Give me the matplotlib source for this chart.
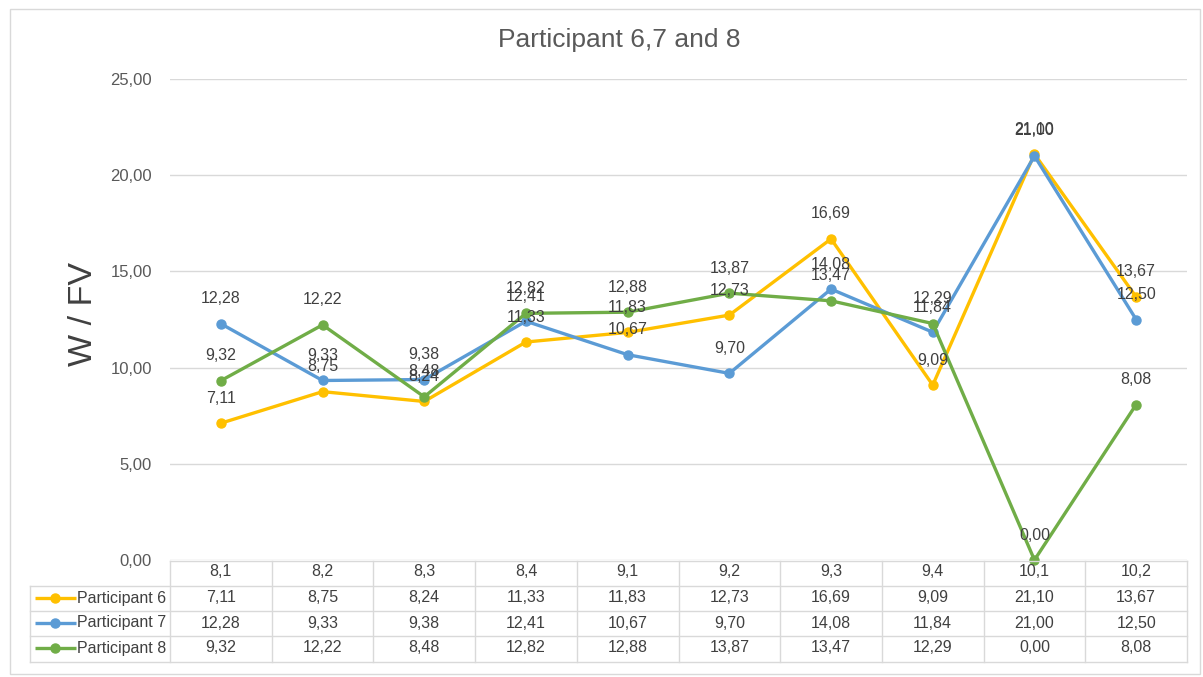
import matplotlib.pyplot as plt
from matplotlib.patches import Rectangle
from matplotlib.lines import Line2D
import matplotlib.transforms as mtransforms

categories = ["8,1", "8,2", "8,3", "8,4", "9,1", "9,2", "9,3", "9,4", "10,1", "10,2"]
participant6 = [7.11, 8.75, 8.24, 11.33, 11.83, 12.73, 16.69, 9.09, 21.10, 13.67]
participant7 = [12.28, 9.33, 9.38, 12.41, 10.67, 9.70, 14.08, 11.84, 21.00, 12.50]
participant8 = [9.32, 12.22, 8.48, 12.82, 12.88, 13.87, 13.47, 12.29, 0.00, 8.08]
series_names = ["Participant 6", "Participant 7", "Participant 8"]
colors = ["#FFC000", "#5B9BD5", "#70AD47"]
yticks = [0, 5, 10, 15, 20, 25]

W, H = 1203, 677
txt = "#404040"
fs = 11.5
plt.rcParams['font.family'] = ['Liberation Sans', 'DejaVu Sans']

def fx(px):
    return px / W

def fy(py):
    return 1 - py / H

def comma(v):
    return f"{v:.2f}".replace(".", ",")

fig = plt.figure(figsize=(W / 100, H / 100), dpi=100)
fig.patches.append(Rectangle((fx(10), fy(674)), fx(1190), (674 - 9) / H,
                             transform=fig.transFigure, fill=False,
                             edgecolor="#D9D9D9", linewidth=1))

ax = fig.add_axes([fx(170), fy(560), fx(1187 - 170), (560 - 79) / H])
n = len(categories)
x = list(range(n))
all_series = [participant6, participant7, participant8]

for vals, c in zip(all_series, colors):
    ax.plot(x, vals, color=c, linewidth=2.4, marker="o", markersize=6.5, zorder=3,
            clip_on=False)
    for xi, v in zip(x, vals):
        ax.annotate(comma(v), (xi, v), xytext=(0, 18),
                    textcoords="offset points", ha="center", va="center",
                    fontsize=fs, color=txt, zorder=4)

ax.set_xlim(-0.5, n - 0.5)
ax.set_ylim(0, 25)
ax.set_yticks(yticks)
ax.set_yticklabels([comma(t) for t in yticks], fontsize=12, color="#595959")
ax.tick_params(axis="y", length=0, pad=13)
ax.set_xticks([])
ax.grid(axis="y", color="#D9D9D9", linewidth=1)
ax.set_axisbelow(True)
for s in ax.spines.values():
    s.set_visible(False)

fig.text(fx(84), fy(314), "W / FV", rotation=90, ha="center", va="center",
         fontsize=24.5, color=txt)
fig.text(fx(619), fy(40), "Participant 6,7 and 8", ha="center", va="center",
         fontsize=19, color="#595959")

# data table under the plot: x in data units, y in figure units
trans = mtransforms.blended_transform_factory(ax.transData, fig.transFigure)
grid_c = "#D9D9D9"
row_edges = [560, 585, 610, 635, 661]
left_px = 30
for i, ry in enumerate(row_edges):
    x0 = fx(170) if i == 0 else fx(left_px)
    fig.add_artist(Line2D([x0, fx(1187)], [fy(ry + 1), fy(ry + 1)],
                          transform=fig.transFigure, color=grid_c, linewidth=1))
for k in range(n + 1):
    xv = k - 0.5
    fig.add_artist(Line2D([xv, xv], [fy(561), fy(662)], transform=trans,
                          color=grid_c, linewidth=1))
fig.add_artist(Line2D([fx(left_px), fx(left_px)], [fy(586), fy(662)],
                      transform=fig.transFigure, color=grid_c, linewidth=1))

for xi, cat in zip(x, categories):
    fig.text(xi, fy(572), cat, transform=trans, ha="center", va="center",
             fontsize=fs, color=txt)

row_centres = [598, 623, 648]
for name, vals, c, ry in zip(series_names, all_series, colors, row_centres):
    fig.add_artist(Line2D([fx(35), fx(76)], [fy(ry), fy(ry)], transform=fig.transFigure,
                          color=c, linewidth=2.4, solid_capstyle="butt"))
    fig.add_artist(Line2D([fx(55)], [fy(ry)], transform=fig.transFigure,
                          color=c, marker="o", markersize=6.5, linestyle="none"))
    fig.text(fx(77), fy(ry), name, ha="left", va="center", fontsize=fs, color=txt)
    for xi, v in zip(x, vals):
        fig.text(xi, fy(ry), comma(v), transform=trans,
                 ha="center", va="center", fontsize=fs, color=txt)

fig.savefig("out.png", dpi=100)
